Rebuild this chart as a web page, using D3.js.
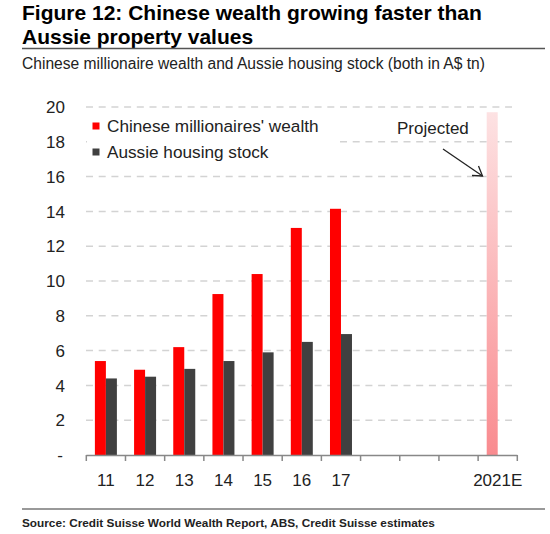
<!DOCTYPE html>
<html><head><meta charset="utf-8">
<script src="https://cdn.jsdelivr.net/npm/d3@7"></script>
<style>body{margin:0;background:#fff}svg{display:block;font-family:"Liberation Sans",Arial,sans-serif}</style>
</head><body>
<svg id="c" width="550" height="534"></svg>
<script>
const categories = ["11","12","13","14","15","16","17","18","19","20","2021E"];
const tickLabels = ["11","12","13","14","15","16","17","","","","2021E"];
const chineseWealth = [5.4,4.9,6.2,9.25,10.4,13.05,14.15,null,null,null,null];
const aussieHousing = [4.4,4.5,4.95,5.4,5.9,6.5,6.95,null,null,null,null];
const projectedCategory = "2021E";
const projectedValue = 19.7;
const yTicks = [0,2,4,6,8,10,12,14,16,18,20];
const seriesNames = ["Chinese millionaires' wealth","Aussie housing stock"];
const seriesColors = ["#ff0000","#404040"];

const svg = d3.select("#c");
const x = d3.scaleBand().domain(categories).range([86.3,517.3]).padding(0);
const y = d3.scaleLinear().domain([0,20]).range([455,107]);
const bw = 11;
const fs = 17;

// title
svg.append("text").attr("x",22).attr("y",20).attr("font-size",21).attr("font-weight","bold").attr("fill","#000").text("Figure 12: Chinese wealth growing faster than");
svg.append("text").attr("x",22).attr("y",43.5).attr("font-size",21).attr("font-weight","bold").attr("fill","#000").text("Aussie property values");
svg.append("line").attr("x1",22).attr("x2",545).attr("y1",48.5).attr("y2",48.5).attr("stroke","#555").attr("stroke-width",1.3);
svg.append("text").attr("x",22).attr("y",69).attr("font-size",15.6).attr("fill","#222").text("Chinese millionaire wealth and Aussie housing stock (both in A$ tn)");

// gridlines
svg.append("g").selectAll("line").data(yTicks.filter(d=>d>0)).join("line")
  .attr("x1",86).attr("x2",512).attr("y1",d=>y(d)).attr("y2",d=>y(d))
  .attr("stroke","#d3d3d3").attr("stroke-width",1.5).attr("stroke-dasharray","7,5.7");

// y axis labels
svg.append("g").selectAll("text").data(yTicks).join("text")
  .attr("x",d=>d===0?63:65).attr("y",d=>y(d)).attr("dy","0.36em").attr("text-anchor","end")
  .attr("font-size",fs).attr("fill","#222").text(d=>d===0?"-":d);

// gradient for projected
const defs = svg.append("defs");
const g = defs.append("linearGradient").attr("id","pg").attr("x1",0).attr("x2",0).attr("y1",0).attr("y2",1);
g.append("stop").attr("offset","0%").attr("stop-color","#fde2e3");
g.append("stop").attr("offset","100%").attr("stop-color","#f98b8f");

// bars
svg.append("g").selectAll("rect").data(categories.map((c,i)=>({c,v:chineseWealth[i]})).filter(d=>d.v!=null)).join("rect")
  .attr("x",d=>x(d.c)+x.bandwidth()/2-bw).attr("width",bw).attr("y",d=>y(d.v)).attr("height",d=>y(0)-y(d.v)).attr("fill",seriesColors[0]);
svg.append("g").selectAll("rect").data(categories.map((c,i)=>({c,v:aussieHousing[i]})).filter(d=>d.v!=null)).join("rect")
  .attr("x",d=>x(d.c)+x.bandwidth()/2).attr("width",bw).attr("y",d=>y(d.v)).attr("height",d=>y(0)-y(d.v)).attr("fill",seriesColors[1]);
svg.append("rect").attr("x",x(projectedCategory)+x.bandwidth()/2-bw).attr("width",bw)
  .attr("y",y(projectedValue)).attr("height",y(0)-y(projectedValue)).attr("fill","url(#pg)");

// x axis
const axis = d3.axisBottom(x).tickSize(0).tickFormat((d,i)=>tickLabels[i]);
const ax = svg.append("g").attr("transform","translate(0,455)").call(axis);
ax.select(".domain").attr("stroke","#888").attr("stroke-width",1.5).attr("d","M86.3,0.5H517.3");
ax.selectAll("text").attr("font-size",fs).attr("fill","#222").attr("font-family","Liberation Sans, Arial, sans-serif").attr("dy",0).attr("y",31);
const bounds = categories.map(c=>x(c)).concat([x.range()[1]]);
svg.append("g").selectAll("line").data(bounds).join("line")
  .attr("x1",d=>d).attr("x2",d=>d).attr("y1",455).attr("y2",461).attr("stroke","#888").attr("stroke-width",1.5);

// legend
const lg = svg.append("g");
lg.append("rect").attr("x",87).attr("y",113).attr("width",248).attr("height",56).attr("fill","#fff");
seriesNames.forEach((n,i)=>{
  const cy = 126 + i*26;
  lg.append("rect").attr("x",92.5).attr("y",cy-3.5).attr("width",7).attr("height",7).attr("fill",seriesColors[i]);
  lg.append("text").attr("x",107).attr("y",cy).attr("dy","0.36em").attr("font-size",17.2).attr("fill","#222").text(n);
});

// annotation
svg.append("text").attr("x",397).attr("y",128).attr("dy","0.36em").attr("font-size",fs).attr("fill","#222").text("Projected");
svg.append("line").attr("x1",443).attr("y1",149).attr("x2",482.5).attr("y2",176).attr("stroke","#222").attr("stroke-width",1.3);
svg.append("path").attr("d","M472,175.5 L482.5,176 L478.5,166").attr("fill","none").attr("stroke","#222").attr("stroke-width",1.3);

// footer
svg.append("line").attr("x1",22).attr("x2",545).attr("y1",509).attr("y2",509).attr("stroke","#777").attr("stroke-width",1.3);
svg.append("text").attr("x",22).attr("y",527).attr("font-size",11.8).attr("font-weight","bold").attr("fill","#222").text("Source: Credit Suisse World Wealth Report, ABS, Credit Suisse estimates");
</script>
</body></html>
